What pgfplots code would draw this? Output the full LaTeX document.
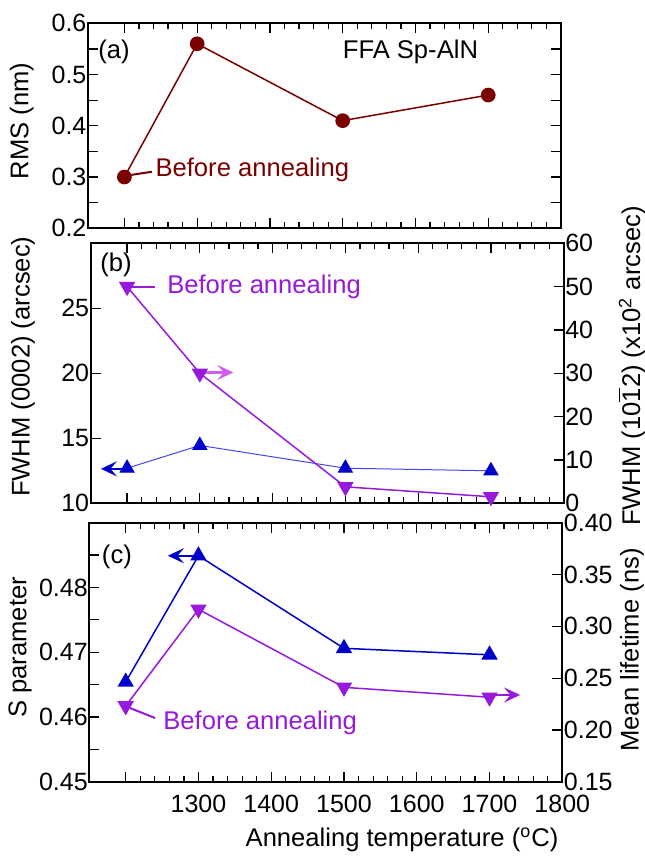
\documentclass[border=0pt]{standalone}
\usepackage{fontspec}
\setmainfont{Liberation Sans}
\usepackage{pgfplots}
\pgfplotsset{compat=1.18}
\usetikzlibrary{arrows.meta}
\definecolor{dred}{RGB}{122,0,0}
\definecolor{vio}{RGB}{150,25,220}
\definecolor{lvio}{RGB}{205,95,235}
\definecolor{myblue}{RGB}{0,0,205}
\definecolor{lblue}{RGB}{70,70,240}
\newcommand{\tf}{\fontsize{12.5}{14}\selectfont}
\newcommand{\lf}{\fontsize{12.8}{15}\selectfont}
\pgfplotsset{mybase/.style={
  scale only axis, width=236.5pt, xmin=1150, xmax=1800,
  xtick={1200,1300,1400,1500,1600,1700,1800}, minor x tick num=4,
  major tick length=5pt, minor tick length=3pt, tick align=inside,
  tick style={black, line width=0.6pt},
  axis line style={black, line width=1pt},
  tick label style={font=\tf},
  yticklabel style={inner xsep=0.6pt},
  xticklabel style={yshift=-3pt},
  anchor=north west, clip=false,
}}
\tikzset{arr/.style={line width=1.1pt, -{Stealth[length=8pt,width=7.5pt,inset=3.2pt]}}}
\begin{document}
\begin{tikzpicture}
\useasboundingbox (0,0) rectangle (322pt,-428pt);
% ---------- panel (a)
\begin{axis}[mybase, at={(44pt,-11.65pt)}, height=102.5pt,
  ymin=0.2, ymax=0.6,
  ytick={0.2,0.25,0.3,0.35,0.4,0.45,0.5,0.55,0.6},
  yticklabels={0.2,,0.3,,0.4,,0.5,,0.6}, xticklabels={}]
\addplot[dred, line width=0.75pt, mark=*, mark size=3.3pt] coordinates {(1200,0.30)(1300,0.56)(1500,0.41)(1700,0.46)};
\node[anchor=west, inner sep=0, font=\lf] at (rel axis cs:0.021,0.861) {(a)};
\node[anchor=west, inner sep=0, font=\lf] at (rel axis cs:0.538,0.861) {FFA Sp-AlN};
\node[anchor=west, inner sep=0, font=\lf, text=dred] at (rel axis cs:0.142,0.284) {Before annealing};
\draw[dred, line width=1pt] (rel axis cs:0.0905,0.26) -- (rel axis cs:0.135,0.276);
\end{axis}
% ---------- panel (b)
\begin{axis}[mybase, at={(45.35pt,-121.65pt)}, height=130pt,
  ymin=10, ymax=30, ytick={10,15,20,25}, yticklabels={10,15,20,25},
  ytick pos=left, xticklabels={}]
\addplot[lblue, line width=0.5pt, mark=triangle*, mark size=4pt, mark options={myblue}] coordinates {(1200,12.7)(1300,14.45)(1500,12.7)(1700,12.5)};
\draw[myblue, arr] (axis cs:1194,12.65) -- (axis cs:1164,12.65);
\node[anchor=west, inner sep=0, font=\lf] at (rel axis cs:0.0197,0.9165) {(b)};
\node[anchor=west, inner sep=0, font=\lf, text=vio] at (rel axis cs:0.161,0.833) {Before annealing};
\draw[vio, line width=1pt] (rel axis cs:0.0867,0.832) -- (rel axis cs:0.136,0.832);
\end{axis}
\begin{axis}[mybase, at={(45.35pt,-121.65pt)}, height=130pt,
  ymin=0, ymax=60, ytick={0,10,20,30,40,50,60}, yticklabels={0,10,20,30,40,50,60},
  axis y line*=right, axis x line=none]
\addplot[vio, line width=0.75pt, mark=triangle*, mark size=4pt, mark options={rotate=180}] coordinates {(1200,50)(1300,30)(1500,3.8)(1700,1.5)};
\draw[lvio, arr] (axis cs:1306,30.2) -- (axis cs:1346,30.2);
\end{axis}
% ---------- panel (c)
\begin{axis}[mybase, at={(44.65pt,-261.35pt)}, height=129.5pt,
  ymin=0.45, ymax=0.49,
  ytick={0.45,0.455,0.46,0.465,0.47,0.475,0.48,0.485,0.49},
  yticklabels={0.45,,0.46,,0.47,,0.48,,}, ytick pos=left,
  xticklabels={,1300,1400,1500,1600,1700,1800}]
\addplot[myblue, line width=0.75pt, mark=triangle*, mark size=4pt] coordinates {(1200,0.4654)(1300,0.4849)(1500,0.4706)(1700,0.4696)};
\draw[myblue, arr] (axis cs:1294,0.4849) -- (axis cs:1258,0.4849);
\node[anchor=west, inner sep=0, font=\lf] at (rel axis cs:0.026,0.869) {(c)};
\node[anchor=west, inner sep=0, font=\lf, text=vio] at (rel axis cs:0.1557,0.228) {Before annealing};
\draw[vio, line width=1pt] (rel axis cs:0.086,0.2846) -- (rel axis cs:0.139,0.2459);
\end{axis}
\begin{axis}[mybase, at={(44.65pt,-261.35pt)}, height=129.5pt,
  ymin=0.15, ymax=0.40, ytick={0.15,0.2,0.25,0.3,0.35,0.4},
  yticklabels={0.15,0.20,0.25,0.30,0.35,0.40},
  axis y line*=right, axis x line=none]
\addplot[vio, line width=0.75pt, mark=triangle*, mark size=4pt, mark options={rotate=180}] coordinates {(1200,0.2231)(1300,0.3164)(1500,0.2411)(1700,0.2315)};
\draw[vio, arr] (axis cs:1706,0.2337) -- (axis cs:1742,0.2337);
\end{axis}
% ---------- axis labels
\node[rotate=90, font=\lf] at (10.85pt,-60.4pt) {RMS (nm)};
\node[rotate=90, font=\lf] at (11.5pt,-183.35pt) {FWHM (0002) (arcsec)};
\node[rotate=90, font=\lf] at (10pt,-323.75pt) {S parameter};
\node[rotate=90, font=\lf] at (316pt,-183pt) {FWHM (10$\overline{\mbox{1}}$2) (x10\textsuperscript{2} arcsec)};
\node[rotate=90, font=\lf] at (316pt,-325pt) {Mean lifetime (ns)};
\node[font=\lf] at (201pt,-420pt) {Annealing temperature (\textsuperscript{o}C)};
\end{tikzpicture}
\end{document}
